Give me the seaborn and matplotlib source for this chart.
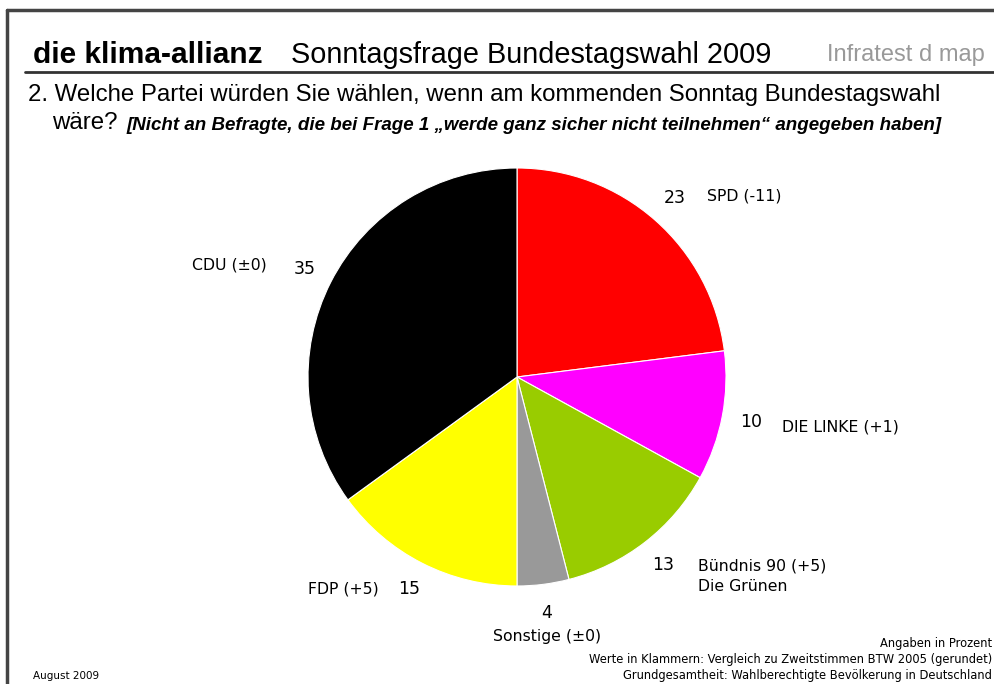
import matplotlib
matplotlib.use("Agg")
import matplotlib.pyplot as plt
import seaborn as sns
import numpy as np
from matplotlib.lines import Line2D

# Daten
parteien = ["SPD (-11)", "DIE LINKE (+1)", "Bündnis 90 (+5)\nDie Grünen", "Sonstige (±0)", "FDP (+5)", "CDU (±0)"]
werte = [23, 10, 13, 4, 15, 35]
farben = ["#ff0000", "#ff00ff", "#99cc00", "#999999", "#ffff00", "#000000"]

sns.set_theme(style="white")
plt.rcParams["font.family"] = ["Liberation Sans", "DejaVu Sans"]
plt.rcParams["text.color"] = "black"

W, H = 995, 684
fig = plt.figure(figsize=(W / 100, H / 100), dpi=100)
fig.patch.set_facecolor("white")

def px(x, y):
    return x / W, 1 - y / H

# Rahmen und Linie unter dem Titel
fig.add_artist(Line2D([7 / W, 1], [1 - 10 / H] * 2, color="#444444", lw=2.5))
fig.add_artist(Line2D([7 / W] * 2, [1 - 10 / H, 0], color="#444444", lw=2.5))
fig.add_artist(Line2D([25 / W, 1], [1 - 72 / H] * 2, color="#333333", lw=2))

# Kopfzeile
fig.text(*px(33, 55), "die klima-allianz", fontsize=21.5, fontweight="bold", va="center")
fig.text(*px(291, 55), "Sonntagsfrage Bundestagswahl 2009", fontsize=20.8, va="center")
fig.text(*px(985, 55), "Infratest d map", fontsize=17, va="center", ha="right", color="#999999")
fig.text(*px(28, 95), "2. Welche Partei würden Sie wählen, wenn am kommenden Sonntag Bundestagswahl",
         fontsize=17.3, va="center")
fig.text(*px(52, 123), "wäre?", fontsize=17.3, va="center")
fig.text(*px(127, 125), "[Nicht an Befragte, die bei Frage 1 \u201ewerde ganz sicher nicht teilnehmen\u201c angegeben haben]",
         fontsize=13.5, va="center", style="italic", fontweight="bold")

# Kreisdiagramm
cx, cy, r = 517, 377, 209
ax = fig.add_axes([(cx - r) / W, (H - cy - r) / H, 2 * r / W, 2 * r / H])
wedges, texts = ax.pie(werte, colors=farben, startangle=90, counterclock=False,
                       labels=[str(v) for v in werte], labeldistance=1.14,
                       wedgeprops=dict(edgecolor="white", linewidth=0.8),
                       textprops=dict(fontsize=12.5, family=["DejaVu Sans"], color="black"))
ax.set_xlim(-1, 1)
ax.set_ylim(-1, 1)
ax.set_aspect("equal")

for t in texts:
    t.set_ha("center")
    t.set_va("center")

# Parteinamen neben den Zahlen (Versatz in Punkten)
versatz = [(23, 2, "left", "center"), (22, -4, "left", "center"), (25, -8, "left", "center"),
           (0, -17, "center", "center"), (-22, 0, "right", "center"), (-27, 3, "right", "center")]
for t, name, (dx, dy, ha, va) in zip(texts, parteien, versatz):
    x, y = t.get_position()
    ax.annotate(name, xy=(x, y), xytext=(dx, dy), textcoords="offset points",
                ha=ha, va=va, fontsize=11.3, family=["DejaVu Sans"], linespacing=1.5,
                color="black", annotation_clip=False)

# Fußnoten
fig.text(*px(992, 643), "Angaben in Prozent", fontsize=8.3, ha="right", va="center",
         family=["DejaVu Sans Condensed", "DejaVu Sans"])
fig.text(*px(992, 660), "Werte in Klammern: Vergleich zu Zweitstimmen BTW 2005 (gerundet)", fontsize=8.3,
         ha="right", va="center", family=["DejaVu Sans Condensed", "DejaVu Sans"])
fig.text(*px(992, 676), "Grundgesamtheit: Wahlberechtigte Bevölkerung in Deutschland", fontsize=8.3,
         ha="right", va="center", family=["DejaVu Sans Condensed", "DejaVu Sans"])
fig.text(*px(33, 676), "August 2009", fontsize=7.5, va="center",
         family=["DejaVu Sans Condensed", "DejaVu Sans"])

fig.savefig("out.png", dpi=100)
